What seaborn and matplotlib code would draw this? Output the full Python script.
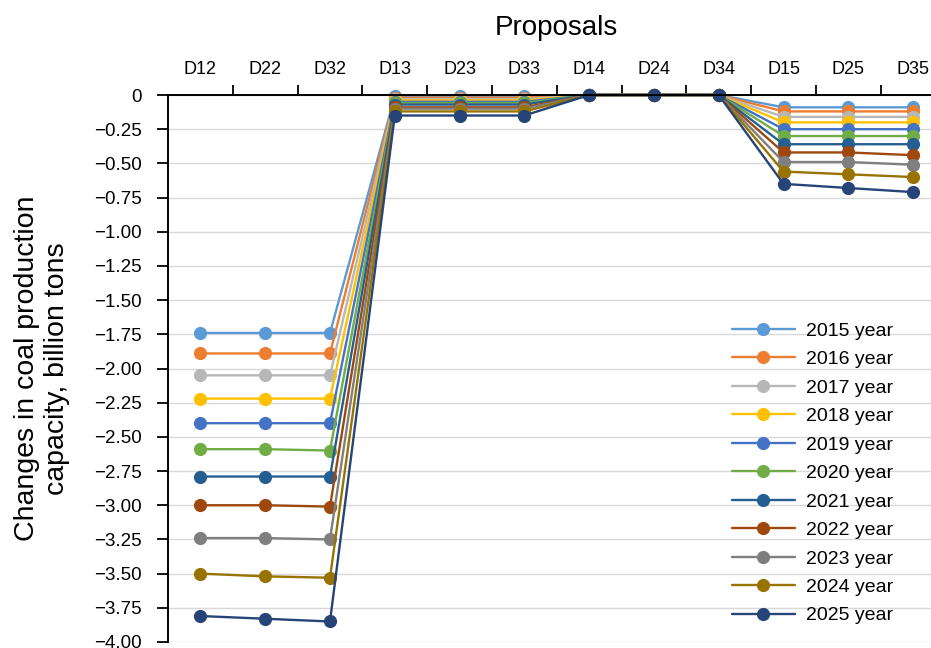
import numpy as np
import pandas as pd
import matplotlib
matplotlib.use("Agg")
import matplotlib.pyplot as plt
import seaborn as sns
from matplotlib.ticker import FixedLocator, FuncFormatter

categories = ["D12", "D22", "D32", "D13", "D23", "D33", "D14", "D24", "D34", "D15", "D25", "D35"]
years = ["2015 year", "2016 year", "2017 year", "2018 year", "2019 year", "2020 year",
         "2021 year", "2022 year", "2023 year", "2024 year", "2025 year"]

y2015 = [-1.74, -1.74, -1.74, -0.01, -0.01, -0.01, 0, 0, 0, -0.09, -0.09, -0.09]
y2016 = [-1.89, -1.89, -1.89, -0.02, -0.02, -0.02, 0, 0, 0, -0.12, -0.12, -0.12]
y2017 = [-2.05, -2.05, -2.05, -0.03, -0.03, -0.03, 0, 0, 0, -0.16, -0.16, -0.16]
y2018 = [-2.22, -2.22, -2.22, -0.04, -0.04, -0.04, 0, 0, 0, -0.20, -0.20, -0.20]
y2019 = [-2.40, -2.40, -2.40, -0.05, -0.05, -0.05, 0, 0, 0, -0.25, -0.25, -0.25]
y2020 = [-2.59, -2.59, -2.60, -0.06, -0.06, -0.06, 0, 0, 0, -0.30, -0.30, -0.30]
y2021 = [-2.79, -2.79, -2.79, -0.07, -0.07, -0.07, 0, 0, 0, -0.36, -0.36, -0.36]
y2022 = [-3.00, -3.00, -3.01, -0.09, -0.09, -0.09, 0, 0, 0, -0.42, -0.42, -0.44]
y2023 = [-3.24, -3.24, -3.25, -0.10, -0.10, -0.10, 0, 0, 0, -0.49, -0.49, -0.51]
y2024 = [-3.50, -3.52, -3.53, -0.12, -0.12, -0.12, 0, 0, 0, -0.56, -0.58, -0.60]
y2025 = [-3.81, -3.83, -3.85, -0.15, -0.15, -0.15, 0, 0, 0, -0.65, -0.68, -0.71]

series = [y2015, y2016, y2017, y2018, y2019, y2020, y2021, y2022, y2023, y2024, y2025]
colors = ["#5B9BD5", "#ED7D31", "#B7B7B7", "#FFC000", "#4472C4", "#70AD47",
          "#255E91", "#9E480E", "#7F7F7F", "#997300", "#264478"]

ytick_values = [0, -0.25, -0.5, -0.75, -1.0, -1.25, -1.5, -1.75, -2.0, -2.25, -2.5,
                -2.75, -3.0, -3.25, -3.5, -3.75, -4.0]

rows = []
for yr, vals in zip(years, series):
    for i, (c, v) in enumerate(zip(categories, vals)):
        rows.append({"year": yr, "pos": i, "cat": c, "value": v})
df = pd.DataFrame(rows)

sns.set_theme(style="white")
plt.rcParams["font.family"] = ["Liberation Sans", "DejaVu Sans"]

fig = plt.figure(figsize=(9.31, 6.48), dpi=100)
ax = fig.add_axes([168 / 931, 6 / 648, (945.5 - 168) / 931, (642 - 95) / 648])

palette = dict(zip(years, colors))
sns.lineplot(data=df, x="pos", y="value", hue="year", hue_order=years, palette=palette,
             marker="o", markersize=9.5, markeredgewidth=0, linewidth=1.7, ax=ax,
             sort=False, estimator=None)
for ln in ax.lines:
    ln.set_clip_on(False)

ax.set_xlim(-0.5, len(categories) - 0.5)
ax.set_ylim(-4.0, 0)

ax.yaxis.set_major_locator(FixedLocator(ytick_values))
ax.yaxis.set_major_formatter(FuncFormatter(
    lambda v, p: "0" if abs(v) < 1e-9 else f"{v:.2f}".replace("-", "\u2212")))
ax.grid(axis="y", color="#D9D9D9", linewidth=1.0)
ax.grid(axis="x", visible=False)
ax.set_axisbelow(True)

ax.xaxis.tick_top()
ax.xaxis.set_label_position("top")
ax.set_xticks(range(len(categories)))
ax.set_xticklabels(categories)
ax.xaxis.set_minor_locator(FixedLocator([i + 0.5 for i in range(len(categories))]))
ax.tick_params(axis="x", which="major", length=0, pad=12, labelsize=13, colors="black")
ax.tick_params(axis="x", which="minor", top=True, bottom=False, length=7, width=1.3,
               color="black", direction="out")
ax.tick_params(axis="y", which="major", left=True, length=8, width=1.3, color="black",
               direction="out", labelsize=13.5, pad=11, labelcolor="black")

for s in ["bottom", "right"]:
    ax.spines[s].set_visible(False)
for s in ["top", "left"]:
    ax.spines[s].set_visible(True)
    ax.spines[s].set_color("black")
    ax.spines[s].set_linewidth(1.4)

ax.set_xlabel("Proposals", fontsize=20, labelpad=19, color="black")
ax.set_ylabel("Changes in coal production\ncapacity, billion tons", fontsize=20.5,
              labelpad=17, color="black")

leg = ax.legend(loc="lower right", bbox_to_anchor=((911 - 168) / (945.5 - 168), 0.0),
                frameon=False, fontsize=14, handlelength=3.2, handletextpad=0.6,
                labelspacing=0.56, title=None)
for t in leg.get_texts():
    t.set_color("black")

fig.savefig("out.png", dpi=100)
